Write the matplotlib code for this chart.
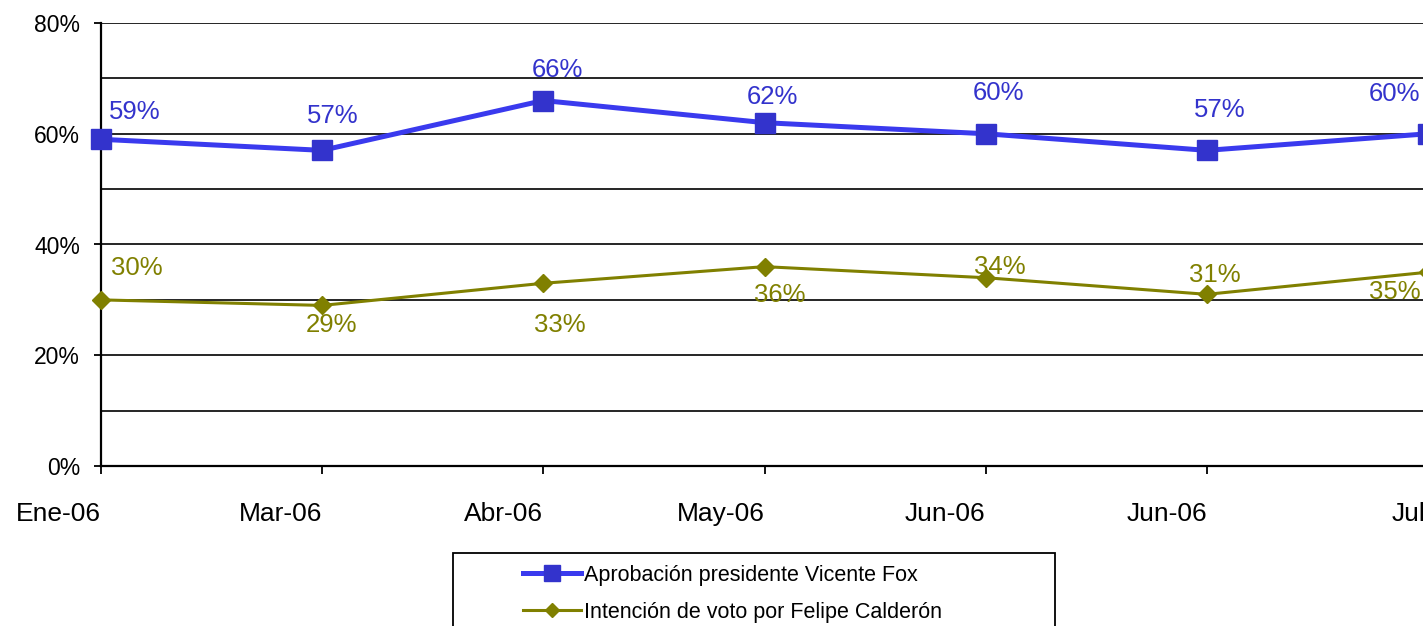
import matplotlib.pyplot as plt
import matplotlib
from matplotlib.patches import Rectangle

matplotlib.rcParams['axes.unicode_minus'] = False
matplotlib.rcParams['font.family'] = ['Liberation Sans', 'DejaVu Sans']

# Donnees
mois = ['Ene-06', 'Mar-06', 'Abr-06', 'May-06', 'Jun-06', 'Jun-06', 'Jul-06']
aprobacion_fox = [59, 57, 66, 62, 60, 57, 60]
voto_calderon = [30, 29, 33, 36, 34, 31, 35]

nom_fox = 'Aprobación presidente Vicente Fox'
nom_calderon = 'Intención de voto por Felipe Calderón'

# decalage des etiquettes (pixels)
decal_fox = [(34, 27), (11, 34), (14, 31), (8, 26), (13, 41), (13, 40), (-33, 40)]
decal_calderon = [(36, 32), (9, -20), (16, -42), (15, -28), (14, 11), (8, 19), (-33, -20)]

BLEU = '#3333CC'
BLEU_LIGNE = '#3A3AEE'
OLIVE = '#808000'

W, H = 1423, 626
fig = plt.figure(figsize=(W / 100, H / 100), dpi=100)
fig.patch.set_facecolor('white')

x0, x1 = 101, 1428
y0, y1 = 466, 23
ax = fig.add_axes([x0 / W, 1 - y0 / H, (x1 - x0) / W, (y0 - y1) / H])

x = list(range(len(mois)))

l1, = ax.plot(x, aprobacion_fox, color=BLEU_LIGNE, linewidth=3.6,
              marker='s', markersize=15, markerfacecolor=BLEU,
              markeredgecolor=BLEU, clip_on=False, zorder=4, label=nom_fox)
l2, = ax.plot(x, voto_calderon, color=OLIVE, linewidth=2.2,
              marker='D', markersize=9.5, markerfacecolor=OLIVE,
              markeredgecolor=OLIVE, clip_on=False, zorder=4, label=nom_calderon)

# Etiquettes des valeurs
for xi, v, d in zip(x, aprobacion_fox, decal_fox):
    ax.annotate(f'{v}%', (xi, v), textcoords='offset pixels', xytext=d,
                ha='center', va='center', fontsize=18.5, color=BLEU,
                annotation_clip=False, zorder=5)
for xi, v, d in zip(x, voto_calderon, decal_calderon):
    ax.annotate(f'{v}%', (xi, v), textcoords='offset pixels', xytext=d,
                ha='center', va='center', fontsize=18.5, color=OLIVE,
                annotation_clip=False, zorder=5)

ax.set_xlim(0, 6)
ax.set_ylim(0, 80)
ax.set_xticks(x)
ax.set_xticklabels(mois, fontsize=19, ha='right')
ax.get_xticklabels()[-1].set_ha('center')
ax.set_yticks([0, 20, 40, 60, 80])
ax.set_yticklabels([f'{v}%' for v in [0, 20, 40, 60, 80]], fontsize=16.5)
ax.set_yticks([10, 30, 50, 70], minor=True)
ax.tick_params(axis='y', which='major', direction='out', length=5, width=1.3, pad=10)
ax.tick_params(axis='y', which='minor', length=0)
ax.tick_params(axis='x', direction='out', length=6, width=1.3, pad=20)

ax.grid(axis='y', which='both', color='black', linewidth=1.2, zorder=1)
ax.set_axisbelow(True)
ax.spines['top'].set_visible(False)
ax.spines['right'].set_visible(False)
ax.spines['left'].set_linewidth(1.6)
ax.spines['bottom'].set_linewidth(1.6)

# Legende
cadre = Rectangle((453 / W, -0.05), (1055 - 453) / W, 0.05 + 1 - 553 / H,
                  transform=fig.transFigure, facecolor='white',
                  edgecolor='black', linewidth=1.3, zorder=0)
fig.patches.append(cadre)
leg = fig.legend(handles=[l1, l2], loc='upper left',
                 bbox_to_anchor=(514 / W, 1 - 556 / H), frameon=False,
                 prop={'size': 15.5},
                 handlelength=2.7, handletextpad=0.15, labelspacing=0.75,
                 borderaxespad=0, markerscale=0.75)

fig.savefig('out.png', dpi=100)
